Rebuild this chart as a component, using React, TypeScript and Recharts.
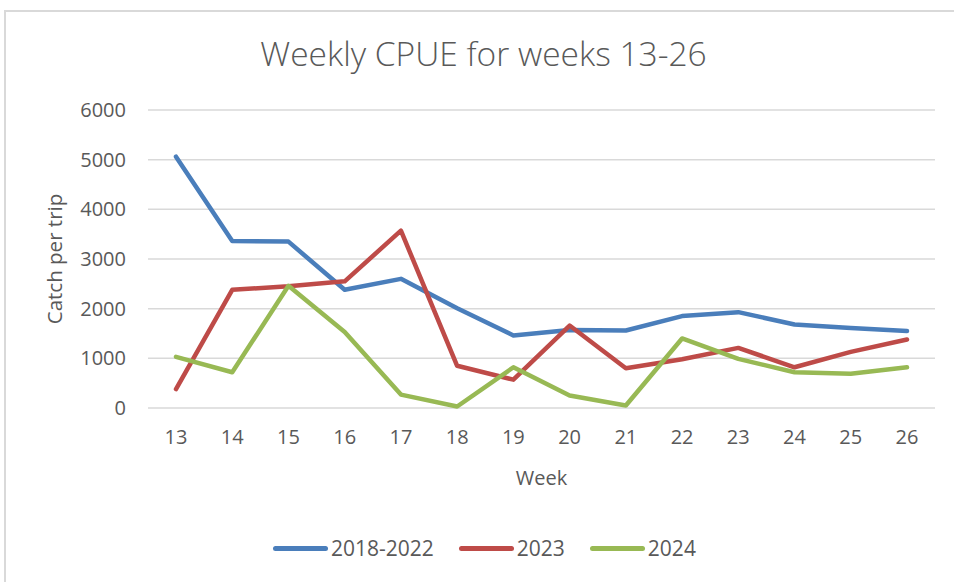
import React from 'react';
import {
  LineChart,
  Line,
  XAxis,
  YAxis,
  CartesianGrid,
  Legend,
} from 'recharts';

// Weekly catch per unit effort
const weeks = ['13', '14', '15', '16', '17', '18', '19', '20', '21', '22', '23', '24', '25', '26'];
const cpue20182022 = [5060, 3360, 3350, 2380, 2600, 2010, 1460, 1570, 1560, 1850, 1930, 1680, 1610, 1550];
const cpue2023 = [380, 2380, 2450, 2550, 3570, 850, 570, 1660, 800, 980, 1210, 820, 1130, 1380];
const cpue2024 = [1030, 720, 2460, 1530, 270, 30, 820, 250, 50, 1400, 990, 720, 690, 820];
const yTicks = [0, 1000, 2000, 3000, 4000, 5000, 6000];

const seriesList = [
  { key: 'a', name: '2018-2022', color: '#4a7ebb' },
  { key: 'b', name: '2023', color: '#be4b48' },
  { key: 'c', name: '2024', color: '#98b954' },
];

const FONT = '"Open Sans", sans-serif';
const TEXT = '#595959';

const data = weeks.map((week, i) => ({
  week,
  a: cpue20182022[i],
  b: cpue2023[i],
  c: cpue2024[i],
}));

function LegendRow() {
  return (
    <div
      style={{
        height: 30,
        display: 'flex',
        alignItems: 'center',
        paddingLeft: 273,
        fontFamily: FONT,
        fontSize: 21,
        color: TEXT,
      }}
    >
      {seriesList.map(s => (
        <div key={s.key} style={{ display: 'flex', alignItems: 'center', marginRight: 25 }}>
          <span
            style={{
              display: 'inline-block',
              width: 55,
              height: 5,
              borderRadius: 3,
              background: s.color,
              marginRight: 3,
            }}
          />
          <span>{s.name}</span>
        </div>
      ))}
    </div>
  );
}

export default function App() {
  return (
    <div style={{ position: 'absolute', left: 0, top: 0, width: 954, height: 582, background: '#fff' }}>
      {/* chart frame, only top and left edges show in the crop */}
      <div
        style={{
          position: 'absolute',
          left: 4,
          top: 10,
          width: 950,
          height: 572,
          borderTop: '2px solid #d9d9d9',
          borderLeft: '2px solid #d9d9d9',
          boxSizing: 'border-box',
        }}
      />
      <div
        style={{
          position: 'absolute',
          left: 0,
          top: 37,
          width: 967,
          textAlign: 'center',
          fontFamily: FONT,
          fontWeight: 300,
          fontSize: 33.5,
          lineHeight: 1,
          color: TEXT,
        }}
      >
        Weekly CPUE for weeks 13-26
      </div>
      <LineChart
        width={954}
        height={582}
        data={data}
        margin={{ top: 110, right: 19, left: 0, bottom: 19 }}
        style={{ position: 'absolute', left: 0, top: 0 }}
      >
        <CartesianGrid vertical={false} stroke="#d9d9d9" strokeWidth={1.5} />
        <XAxis
          dataKey="week"
          axisLine={false}
          tickLine={false}
          tickSize={0}
          tickMargin={22}
          height={125}
          padding={{ left: 28, right: 28 }}
          tick={{ fill: TEXT, fontSize: 20, fontFamily: FONT }}
          label={{
            value: 'Week',
            position: 'insideTop',
            offset: 63,
            fill: TEXT,
            fontSize: 20,
            fontFamily: FONT,
          }}
        />
        <YAxis
          domain={[0, 6000]}
          ticks={yTicks}
          axisLine={false}
          tickLine={false}
          tickSize={0}
          tickMargin={22}
          width={148}
          tick={{ fill: TEXT, fontSize: 20, fontFamily: FONT }}
          label={{
            value: 'Catch per trip',
            angle: -90,
            position: 'insideLeft',
            offset: 55,
            fill: TEXT,
            fontSize: 20.5,
            fontFamily: FONT,
            style: { textAnchor: 'middle' },
          }}
        />
        <Legend verticalAlign="bottom" content={() => <LegendRow />} />
        {seriesList.map(s => (
          <Line
            key={s.key}
            type="linear"
            dataKey={s.key}
            name={s.name}
            stroke={s.color}
            strokeWidth={4.5}
            strokeLinejoin="round"
            strokeLinecap="round"
            dot={false}
            activeDot={false}
            isAnimationActive={false}
          />
        ))}
      </LineChart>
    </div>
  );
}
